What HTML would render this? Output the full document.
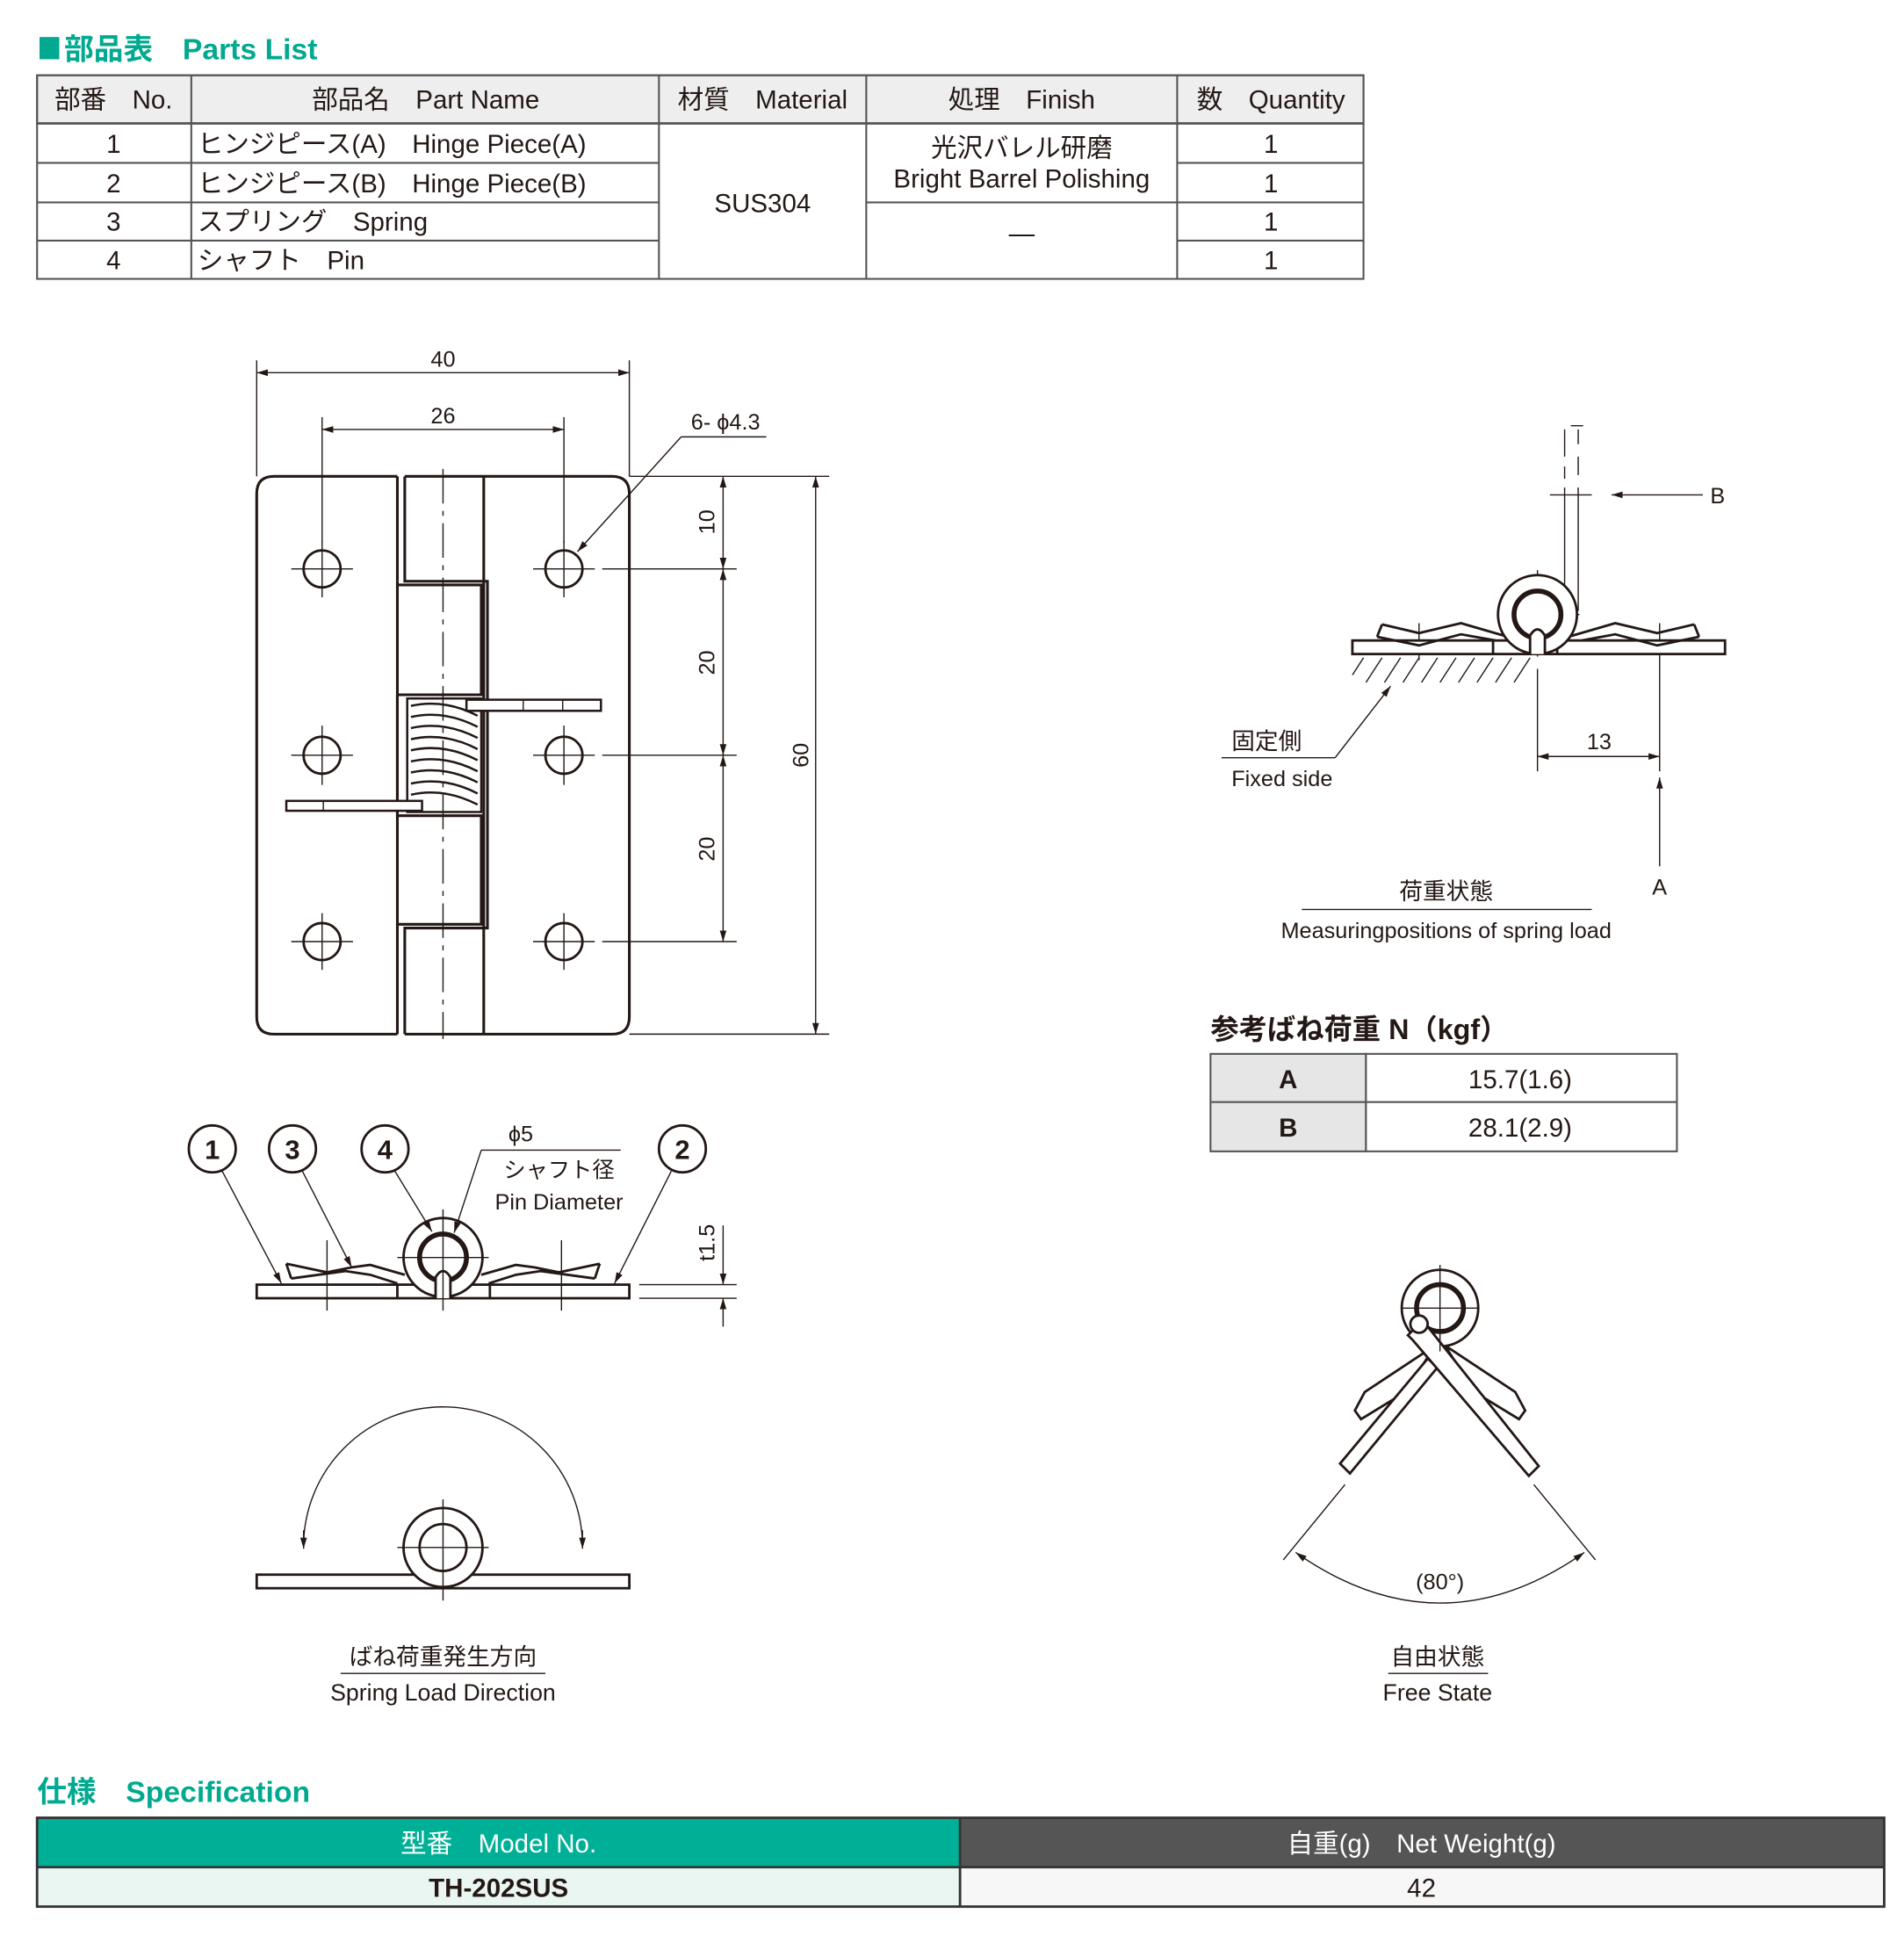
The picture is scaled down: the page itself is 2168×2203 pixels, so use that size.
<!DOCTYPE html>
<html><head><meta charset="utf-8"><style>
html,body{margin:0;padding:0;background:#fff}
svg{display:block}
text{font-family:"Liberation Sans","Noto Sans CJK JP",sans-serif;fill:#231815}
</style></head><body>
<svg width="2168" height="2203" viewBox="0 0 1543 1568" xmlns="http://www.w3.org/2000/svg">
<defs>
<marker id="ar" viewBox="0 0 10 10" refX="10" refY="5" markerWidth="9" markerHeight="9" orient="auto-start-reverse" markerUnits="userSpaceOnUse"><path d="M0,2 L10,5 L0,8 z" fill="#231815"/></marker>
</defs>
<rect x="32" y="30" width="16" height="18" fill="#00a98f"/>
<text x="52" y="48" font-size="24" font-weight="bold" style="fill:#00a98f">部品表　Parts List</text>
<g stroke="#555" stroke-width="1.5" fill="none">
<rect x="30" y="61" width="1075" height="39" fill="#eeeeee"/>
<rect x="30" y="61" width="1075" height="165"/>
<line x1="30" y1="100" x2="1105" y2="100" stroke-width="2"/>
<line x1="30" y1="132" x2="534" y2="132"/><line x1="30" y1="164" x2="534" y2="164"/><line x1="30" y1="195" x2="534" y2="195"/>
<line x1="954" y1="132" x2="1105" y2="132"/><line x1="954" y1="164" x2="1105" y2="164"/><line x1="954" y1="195" x2="1105" y2="195"/>
<line x1="702" y1="164" x2="954" y2="164"/>
<line x1="155" y1="61" x2="155" y2="226"/><line x1="534" y1="61" x2="534" y2="226"/><line x1="702" y1="61" x2="702" y2="226"/><line x1="954" y1="61" x2="954" y2="226"/>
</g>
<g font-size="21">
<text x="92" y="88" text-anchor="middle">部番　No.</text>
<text x="345" y="88" text-anchor="middle">部品名　Part Name</text>
<text x="618" y="88" text-anchor="middle">材質　Material</text>
<text x="828" y="88" text-anchor="middle">処理　Finish</text>
<text x="1030" y="88" text-anchor="middle">数　Quantity</text>
<text x="92" y="124" text-anchor="middle">1</text><text x="92" y="156" text-anchor="middle">2</text><text x="92" y="187" text-anchor="middle">3</text><text x="92" y="218" text-anchor="middle">4</text>
<text x="160" y="124">ヒンジピース(A)　Hinge Piece(A)</text>
<text x="160" y="156">ヒンジピース(B)　Hinge Piece(B)</text>
<text x="160" y="187">スプリング　Spring</text>
<text x="160" y="218">シャフト　Pin</text>
<text x="618" y="172" text-anchor="middle">SUS304</text>
<text x="828" y="127" text-anchor="middle">光沢バレル研磨</text>
<text x="828" y="152" text-anchor="middle">Bright Barrel Polishing</text>
<text x="828" y="196" text-anchor="middle">—</text>
<text x="1030" y="124" text-anchor="middle">1</text><text x="1030" y="156" text-anchor="middle">1</text><text x="1030" y="187" text-anchor="middle">1</text><text x="1030" y="218" text-anchor="middle">1</text>
</g>

<g stroke="#231815" fill="none" stroke-width="2.2">
<path d="M322,386 L222,386 Q208,386 208,400 L208,824 Q208,838 222,838 L322,838"/>
<path d="M322,386 V471 M322,752 V838"/>
<path d="M328,386 V471 H395 V752 H328 V838"/>
<path d="M328,386 H496 Q510,386 510,400 V824 Q510,838 496,838 H328"/>
<line x1="392" y1="386" x2="392" y2="838"/>
<path d="M322,471 V752 M322,474 H390 V563 H322 M322,661 H390 V749 H322"/>
<path d="M322,563 V661"/>
</g>
<g stroke="#231815" fill="none" stroke-width="1.8">
<rect x="330" y="566" width="60" height="92" fill="#fff"/>
<path d="M333,572 Q360,566 387,580 M333,581 Q360,575 387,589 M333,590 Q360,584 387,598 M333,599 Q360,593 387,607 M333,608 Q360,602 387,616 M333,617 Q360,611 387,625 M333,626 Q360,620 387,634 M333,635 Q360,629 387,643 M333,644 Q360,638 387,652"/>
<rect x="378" y="567" width="109" height="9" fill="#fff"/>
<rect x="232" y="649" width="110" height="8" fill="#fff"/>
<line x1="424" y1="567" x2="424" y2="576" stroke-width="1"/><line x1="456" y1="567" x2="456" y2="576" stroke-width="1"/>
<line x1="262" y1="649" x2="262" y2="657" stroke-width="1"/>
</g>
<g stroke="#231815" fill="none">
<g stroke-width="2">
<circle cx="261" cy="461" r="15"/><circle cx="457" cy="461" r="15"/>
<circle cx="261" cy="612" r="15"/><circle cx="457" cy="612" r="15"/>
<circle cx="261" cy="763" r="15"/><circle cx="457" cy="763" r="15"/>
</g>
<g stroke-width="1">
<path d="M236,461 H286 M261,438 V484 M432,461 H482 M457,438 V484"/>
<path d="M236,612 H286 M261,588 V636 M432,612 H482 M457,588 V636"/>
<path d="M236,763 H286 M261,740 V786 M432,763 H482 M457,740 V786"/>
<line x1="359" y1="380" x2="359" y2="842" stroke-dasharray="28,6,4,6"/>
<path d="M208,292 V386 M510,292 V386"/>
<line x1="208" y1="302" x2="510" y2="302" marker-start="url(#ar)" marker-end="url(#ar)"/>
<path d="M261,338 V440 M457,338 V440"/>
<line x1="261" y1="348" x2="457" y2="348" marker-start="url(#ar)" marker-end="url(#ar)"/>
<line x1="552" y1="354" x2="621" y2="354"/>
<line x1="552" y1="354" x2="468" y2="447" marker-end="url(#ar)"/>
<path d="M510,386 H672 M488,461 H597 M488,612 H597 M488,763 H597 M510,838 H672"/>
<line x1="586" y1="386" x2="586" y2="461" marker-start="url(#ar)" marker-end="url(#ar)"/>
<line x1="586" y1="461" x2="586" y2="612" marker-start="url(#ar)" marker-end="url(#ar)"/>
<line x1="586" y1="612" x2="586" y2="763" marker-start="url(#ar)" marker-end="url(#ar)"/>
<line x1="661" y1="386" x2="661" y2="838" marker-start="url(#ar)" marker-end="url(#ar)"/>
</g>
</g>
<g font-size="18">
<text x="359" y="297" text-anchor="middle">40</text>
<text x="359" y="343" text-anchor="middle">26</text>
<text x="588" y="348" text-anchor="middle">6- ϕ4.3</text>
<text transform="translate(579,423) rotate(-90)" text-anchor="middle">10</text>
<text transform="translate(579,537) rotate(-90)" text-anchor="middle">20</text>
<text transform="translate(579,688) rotate(-90)" text-anchor="middle">20</text>
<text transform="translate(655,612) rotate(-90)" text-anchor="middle">60</text>
</g>

<g stroke="#231815" fill="none">
<g stroke-width="2">
<rect x="208" y="1041" width="302" height="11" fill="#fff"/>
<line x1="322" y1="1041" x2="322" y2="1052"/><line x1="397" y1="1041" x2="397" y2="1052"/>
<path d="M232,1024 L265,1031 L285,1027 L300,1025 L328,1033 M236,1036 L280,1030 L300,1033 L322,1040"/>
<path d="M232,1024 L236,1036"/>
<path d="M486,1024 L453,1031 L433,1027 L418,1025 L390,1033 M482,1036 L438,1030 L418,1033 L396,1040"/>
<path d="M486,1024 L482,1036"/>
<circle cx="359" cy="1019" r="32" fill="#fff"/>
<circle cx="359" cy="1019" r="19" stroke-width="4"/>
<path d="M353,1052 V1035 Q359,1025 365,1035 V1052" fill="#fff"/>
<circle cx="172" cy="931" r="19"/><circle cx="237" cy="931" r="19"/><circle cx="312" cy="931" r="19"/><circle cx="553" cy="931" r="19"/>
</g>
<g stroke-width="1">
<path d="M322,1019 H396 M359,980 V1062 M265,1005 V1062 M455,1005 V1062"/>
<line x1="180" y1="949" x2="228" y2="1040" marker-end="url(#ar)"/>
<line x1="245" y1="949" x2="285" y2="1027" marker-end="url(#ar)"/>
<line x1="320" y1="949" x2="350" y2="998" marker-end="url(#ar)"/>
<line x1="544" y1="949" x2="498" y2="1040" marker-end="url(#ar)"/>
<line x1="390" y1="932" x2="503" y2="932"/>
<line x1="390" y1="932" x2="368" y2="999" marker-end="url(#ar)"/>
<path d="M518,1041 H597 M518,1052 H597"/>
<line x1="586" y1="993" x2="586" y2="1041" marker-end="url(#ar)"/>
<line x1="586" y1="1075" x2="586" y2="1052" marker-end="url(#ar)"/>
</g>
</g>
<g font-size="22" font-weight="bold" text-anchor="middle">
<text x="172" y="939">1</text><text x="237" y="939">3</text><text x="312" y="939">4</text><text x="553" y="939">2</text>
</g>
<g font-size="18">
<text x="422" y="925" text-anchor="middle">ϕ5</text>
<text x="453" y="954" text-anchor="middle">シャフト径</text>
<text x="453" y="980" text-anchor="middle">Pin Diameter</text>
<text transform="translate(579,1007) rotate(-90)" text-anchor="middle">t1.5</text>
</g>

<g stroke="#231815" fill="none">
<rect x="208" y="1276" width="302" height="11" stroke-width="2" fill="#fff"/>
<circle cx="359" cy="1254" r="32" stroke-width="2" fill="#fff"/>
<circle cx="359" cy="1254" r="19" stroke-width="2"/>
<path d="M322,1254 H396 M359,1215 V1297" stroke-width="1"/>
<path d="M246,1253 A113,113 0 0 1 472,1253" stroke-width="1"/>
<line x1="246" y1="1240" x2="246" y2="1255" stroke-width="1" marker-end="url(#ar)"/>
<line x1="472" y1="1240" x2="472" y2="1255" stroke-width="1" marker-end="url(#ar)"/>
<line x1="276" y1="1356" x2="442" y2="1356" stroke-width="1"/>
</g>
<g font-size="19" text-anchor="middle">
<text x="359" y="1349">ばね荷重発生方向</text>
<text x="359" y="1378">Spring Load Direction</text>
</g>

<g stroke="#231815" fill="none">
<g stroke-width="1">
<path d="M1268,348 V370 M1279,348 V360 M1273,345 H1283 M1268,378 V388 M1279,370 V385 M1268,395 V495 M1279,395 V495 M1256,401 H1290"/>
<line x1="1380" y1="401" x2="1306" y2="401" marker-end="url(#ar)"/>
<path d="M1107,553 L1120,533 M1122,553 L1135,533 M1137,553 L1150,533 M1152,553 L1165,533 M1167,553 L1180,533 M1182,553 L1195,533 M1197,553 L1210,533 M1212,553 L1225,533 M1227,553 L1240,533 M1096,547 L1105,533"/>
<path d="M1215,498 H1280 M1246,462 V532 M1246,542 V625 M1345,505 V625 M1150,505 V535"/>
<line x1="1246" y1="613" x2="1345" y2="613" marker-start="url(#ar)" marker-end="url(#ar)"/>
<line x1="1345" y1="702" x2="1345" y2="630" marker-end="url(#ar)"/>
<line x1="990" y1="614" x2="1082" y2="614"/>
<line x1="1082" y1="614" x2="1127" y2="556" marker-end="url(#ar)"/>
<line x1="1055" y1="737" x2="1290" y2="737"/>
</g>
<g stroke-width="2">
<rect x="1096" y="519" width="302" height="11" fill="#fff"/>
<line x1="1210" y1="519" x2="1210" y2="530"/><line x1="1262" y1="519" x2="1262" y2="530"/>
<path d="M1120,506 L1150,513 L1184,505 L1222,516 M1116,516 L1150,523 L1184,514 L1212,519"/>
<path d="M1120,506 L1116,516"/>
<path d="M1373,506 L1343,513 L1309,505 L1271,516 M1377,516 L1343,523 L1309,514 L1282,519"/>
<path d="M1373,506 L1377,516"/>
<circle cx="1246" cy="498" r="32" fill="#fff"/>
<circle cx="1246" cy="498" r="19" stroke-width="4"/>
<path d="M1240,530 V515 Q1246,505 1252,515 V530" fill="#fff"/>
</g>
</g>
<g font-size="18">
<text x="1386" y="408">B</text>
<text x="1296" y="607" text-anchor="middle">13</text>
<text x="1345" y="725" text-anchor="middle">A</text>
<text x="998" y="607" font-size="19">固定側</text>
<text x="998" y="637">Fixed side</text>
<text x="1172" y="729" text-anchor="middle" font-size="19">荷重状態</text>
<text x="1172" y="760" text-anchor="middle">Measuringpositions of spring load</text>
</g>

<text x="981" y="842" font-size="23" font-weight="bold">参考ばね荷重 N（kgf）</text>
<g stroke="#555" stroke-width="1.5">
<rect x="981" y="854" width="126" height="79" fill="#e6e6e6"/>
<rect x="1107" y="854" width="252" height="79" fill="#fff"/>
<line x1="981" y1="893" x2="1359" y2="893"/>
</g>
<g font-size="21" text-anchor="middle">
<text x="1044" y="882" font-weight="bold">A</text><text x="1044" y="921" font-weight="bold">B</text>
<text x="1232" y="882">15.7(1.6)</text><text x="1232" y="921">28.1(2.9)</text>
</g>

<g stroke="#231815" fill="none" stroke-width="2">
<path d="M1160,1083 L1228,1128 L1236,1143 L1231,1150 L1195,1128 L1172,1092" fill="#fff"/>
<path d="M1174,1083 L1106,1128 L1098,1143 L1103,1150 L1139,1128 L1162,1092" fill="#fff"/>
<path d="M1086,1186 L1157,1101 L1165,1108 L1094,1194 Z" fill="#fff"/>
<circle cx="1167" cy="1060" r="31" fill="#fff"/>
<circle cx="1167" cy="1060" r="19" stroke-width="4"/>
<path d="M1141,1082 L1153,1070 L1247,1188 L1239,1196 L1145,1086 Z" fill="#fff"/>
<circle cx="1150" cy="1073" r="7" fill="#fff"/>
<g stroke-width="1">
<path d="M1136,1060 H1198 M1167,1025 V1095"/>
<line x1="1090" y1="1203" x2="1040" y2="1264"/>
<line x1="1243" y1="1203" x2="1293" y2="1264"/>
<path d="M1050,1258 Q1167,1340 1284,1258" marker-start="url(#ar)" marker-end="url(#ar)"/>
</g>
<line x1="1125" y1="1356" x2="1206" y2="1356" stroke-width="1"/>
</g>
<g font-size="19" text-anchor="middle">
<text x="1167" y="1288" font-size="18">(80°)</text>
<text x="1165" y="1349">自由状態</text>
<text x="1165" y="1378">Free State</text>
</g>

<text x="30" y="1460" font-size="24" font-weight="bold" style="fill:#00a98f">仕様　Specification</text>
<rect x="30" y="1473" width="748" height="40" fill="#00b096"/>
<rect x="778" y="1473" width="749" height="40" fill="#555555"/>
<rect x="30" y="1513" width="748" height="32" fill="#eaf6f2"/>
<rect x="778" y="1513" width="749" height="32" fill="#f7f7f7"/>
<g stroke="#333" stroke-width="2" fill="none">
<rect x="30" y="1473" width="1497" height="72"/>
<line x1="778" y1="1473" x2="778" y2="1545"/>
<line x1="30" y1="1513" x2="1527" y2="1513"/>
</g>
<g font-size="21" text-anchor="middle">
<text x="404" y="1501" style="fill:#ffffff">型番　Model No.</text>
<text x="1152" y="1501" style="fill:#ffffff">自重(g)　Net Weight(g)</text>
<text x="404" y="1537" font-weight="bold">TH-202SUS</text>
<text x="1152" y="1537">42</text>
</g>
</svg>
</body></html>
